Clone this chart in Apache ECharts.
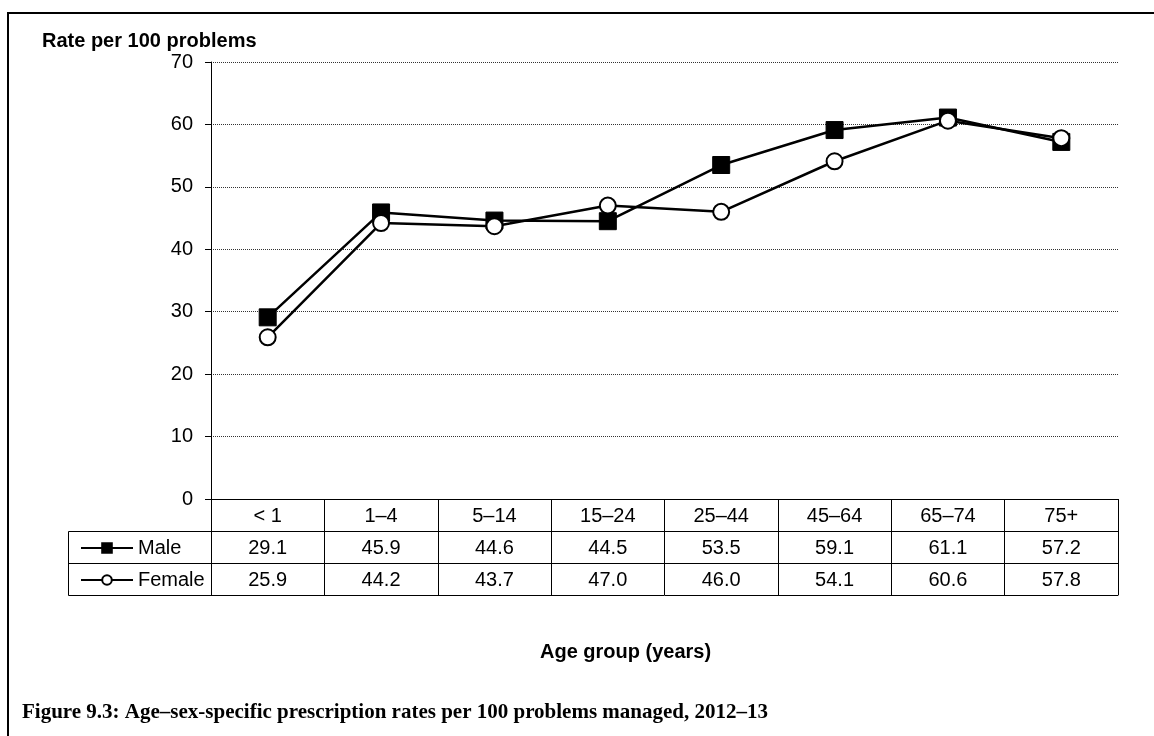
<!DOCTYPE html>
<html>
<head>
<meta charset="utf-8">
<script src="https://cdn.jsdelivr.net/npm/echarts@6/dist/echarts.min.js"></script>
<style>
  html, body { margin: 0; padding: 0; background: #fff; }
  #chart { width: 1154px; height: 736px; }
</style>
</head>
<body>
<div id="chart"></div>
<script>
var ageGroups = ['< 1', '1–4', '5–14', '15–24', '25–44', '45–64', '65–74', '75+'];
var maleRates = [29.1, 45.9, 44.6, 44.5, 53.5, 59.1, 61.1, 57.2];
var femaleRates = [25.9, 44.2, 43.7, 47.0, 46.0, 54.1, 60.6, 57.8];
var yTicks = { min: 0, max: 70, step: 10 };

var sans = '"Liberation Sans", Arial, sans-serif';
var rowH = 32;

function fmt(v) { return v.toFixed(1); }

function tableAxis(data, offset, showLabels) {
    return {
        type: 'category',
        gridIndex: 0,
        position: 'bottom',
        offset: offset,
        data: data,
        boundaryGap: true,
        axisLine: { show: true, lineStyle: { color: '#000', width: 1 } },
        axisTick: { show: showLabels, interval: 0, length: rowH, lineStyle: { color: '#000', width: 1 } },
        axisLabel: { show: showLabels, interval: 0, margin: 7, color: '#000', fontSize: 20, fontFamily: sans },
        splitLine: { show: false }
    };
}

var myChart = echarts.init(document.getElementById('chart'));
myChart.setOption({
    backgroundColor: '#fff',
    animation: false,
    title: [
        {
            text: 'Rate per 100 problems',
            left: 37, top: 26,
            textStyle: { fontFamily: sans, fontWeight: 'bold', fontSize: 20, color: '#000' }
        },
        {
            text: 'Age group (years)',
            left: 535, top: 637,
            textStyle: { fontFamily: sans, fontWeight: 'bold', fontSize: 20, color: '#000' }
        },
        {
            text: 'Figure 9.3: Age–sex-specific prescription rates per 100 problems managed, 2012–13',
            left: 17, top: 697,
            textStyle: { fontFamily: '"Liberation Serif", "Times New Roman", serif', fontWeight: 'bold', fontSize: 21, color: '#000' }
        }
    ],
    grid: { left: 211, right: 36, top: 62, bottom: 237 },
    legend: {
        orient: 'vertical',
        left: 75, top: 533,
        itemWidth: 52, itemHeight: 12, itemGap: 12,
        textStyle: { fontFamily: sans, fontSize: 20, color: '#000', lineHeight: 20 },
        data: ['Male', 'Female']
    },
    xAxis: [
        tableAxis(ageGroups, 0, true),
        tableAxis(maleRates.map(fmt), rowH, true),
        tableAxis(femaleRates.map(fmt), rowH * 2, true),
        tableAxis(ageGroups, rowH * 3, false)
    ],
    yAxis: {
        type: 'value',
        min: yTicks.min, max: yTicks.max, interval: yTicks.step,
        axisLine: { show: true, lineStyle: { color: '#000', width: 1 } },
        axisTick: { show: true, length: 6, lineStyle: { color: '#000' } },
        axisLabel: { margin: 18, color: '#000', fontSize: 20, fontFamily: sans },
        splitLine: { show: true, lineStyle: { color: '#333', width: 1, type: 'dotted' } }
    },
    series: [
        {
            name: 'Male',
            type: 'line',
            xAxisIndex: 0,
            data: maleRates,
            symbol: 'rect',
            symbolSize: 17,
            lineStyle: { color: '#000', width: 2.5 },
            itemStyle: { color: '#000', borderColor: '#000', borderWidth: 1 },
            z: 2
        },
        {
            name: 'Female',
            type: 'line',
            xAxisIndex: 0,
            data: femaleRates,
            symbol: 'circle',
            symbolSize: 16,
            lineStyle: { color: '#000', width: 2.5 },
            itemStyle: { color: '#fff', borderColor: '#000', borderWidth: 2 },
            z: 3
        }
    ],
    graphic: [
        {
            type: 'polyline',
            shape: { points: [[8, 736], [8, 13], [1154, 13]] },
            style: { stroke: '#000', lineWidth: 2, fill: null }
        },
        {
            type: 'rect',
            shape: { x: 68.5, y: 499 + rowH + 0.5, width: 143, height: rowH * 2 },
            style: { stroke: '#000', lineWidth: 1, fill: null }
        },
        {
            type: 'line',
            shape: { x1: 68.5, y1: 499 + rowH * 2 + 0.5, x2: 211, y2: 499 + rowH * 2 + 0.5 },
            style: { stroke: '#000', lineWidth: 1 }
        }
    ]
});
</script>
</body>
</html>
